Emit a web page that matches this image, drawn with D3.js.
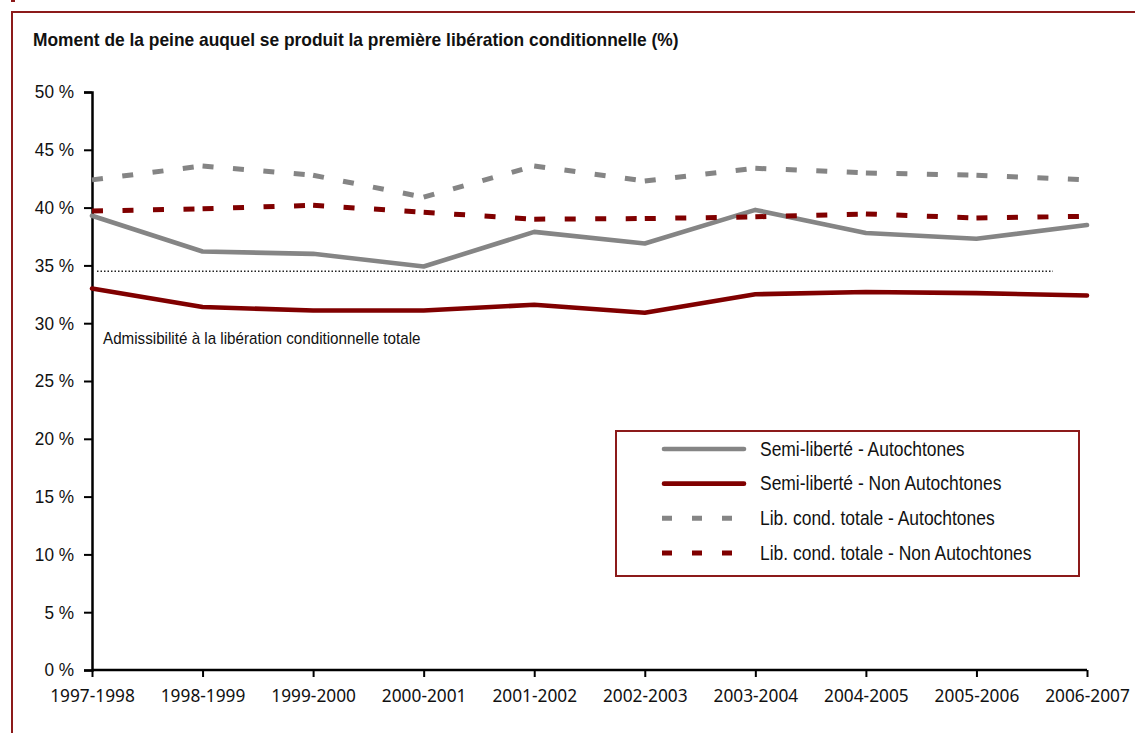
<!DOCTYPE html>
<html>
<head>
<meta charset="utf-8">
<script src="https://cdn.jsdelivr.net/npm/d3@7/dist/d3.min.js"></script>
<style>
  html, body { margin: 0; padding: 0; background: #fff; }
  svg { display: block; }
</style>
</head>
<body>
<svg id="chart" width="1135" height="733"></svg>
<script>
// Fiscal years on the horizontal axis
const years = ["1997-1998", "1998-1999", "1999-2000", "2000-2001", "2001-2002",
               "2002-2003", "2003-2004", "2004-2005", "2005-2006", "2006-2007"];

// Share of the sentence served at first release (%)
const semiAutochtones    = [39.3, 36.2, 36.0, 34.9, 37.9, 36.9, 39.8, 37.8, 37.3, 38.5];
const semiNonAutochtones = [33.0, 31.4, 31.1, 31.1, 31.6, 30.9, 32.5, 32.7, 32.6, 32.4];
const libAutochtones     = [42.4, 43.6, 42.8, 40.9, 43.6, 42.3, 43.4, 43.0, 42.8, 42.4];
const libNonAutochtones  = [39.7, 39.9, 40.2, 39.6, 39.0, 39.05, 39.2, 39.45, 39.1, 39.25];

// Eligibility threshold for full parole
const eligibility = 34.5;

const yTicks = [0, 5, 10, 15, 20, 25, 30, 35, 40, 45, 50];

const seriesNames = ["Semi-liberté - Autochtones", "Semi-liberté - Non Autochtones",
                     "Lib. cond. totale - Autochtones", "Lib. cond. totale - Non Autochtones"];

const GREY = "#858585";
const RED = "#800000";
const FRAME = "#8c1a1a";
const SANS = "'Liberation Sans', Arial, sans-serif";

const series = [
  { name: seriesNames[0], values: semiAutochtones,    color: GREY, dashed: false },
  { name: seriesNames[1], values: semiNonAutochtones, color: RED,  dashed: false },
  { name: seriesNames[2], values: libAutochtones,     color: GREY, dashed: true },
  { name: seriesNames[3], values: libNonAutochtones,  color: RED,  dashed: true }
];

const svg = d3.select("#chart");

// Condensed text: drawn at a taller size and squeezed horizontally
function condensedText(parent, tx, ty, sx, size, str, weight) {
  return parent.append("text")
    .attr("transform", `translate(${tx},${ty}) scale(${sx},1)`)
    .attr("font-family", SANS)
    .attr("font-weight", weight || "normal")
    .attr("font-size", size + "px")
    .attr("fill", "#111")
    .text(str);
}

// Outer frame (continues past the right and bottom edges)
svg.append("rect")
  .attr("x", 12).attr("y", 12)
  .attr("width", 1200).attr("height", 800)
  .attr("fill", "none")
  .attr("stroke", FRAME)
  .attr("stroke-width", 2);
svg.append("rect")
  .attr("x", 11).attr("y", 0).attr("width", 4).attr("height", 2)
  .attr("fill", FRAME);

// Title
condensedText(svg, 33, 45.5, 0.955, 18.2,
  "Moment de la peine auquel se produit la première libération conditionnelle (%)", "bold");

// Scales
const x = d3.scalePoint().domain(years).range([92, 1087]);
const y = d3.scaleLinear().domain([0, 50]).range([670, 92]);

// Y axis
const ySqueeze = 0.935;
const yAxis = svg.append("g")
  .attr("transform", `translate(${x.range()[0]},0)`)
  .call(d3.axisLeft(y).tickValues(yTicks).tickSize(8).tickPadding(10)
        .tickFormat(d => d + " %"));
yAxis.select(".domain").attr("stroke", "#000").attr("stroke-width", 2.5);
yAxis.selectAll(".tick line").attr("stroke", "#000").attr("stroke-width", 2);
yAxis.selectAll(".tick text")
  .attr("font-family", SANS)
  .attr("font-size", "18.4px")
  .attr("fill", "#111")
  .attr("x", -18 / ySqueeze)
  .attr("transform", `scale(${ySqueeze},1)`);

// X axis
const xAxis = svg.append("g")
  .attr("transform", `translate(0,${y(0)})`)
  .call(d3.axisBottom(x).tickSize(7).tickPadding(13).tickSizeOuter(0));
xAxis.select(".domain").attr("stroke", "#000").attr("stroke-width", 2.5)
  .attr("d", `M${x.range()[0]},0H${x.range()[1]}`);
xAxis.selectAll(".tick line").attr("stroke", "#000").attr("stroke-width", 2);
xAxis.selectAll(".tick text")
  .attr("font-family", "'Noto Sans', 'Open Sans', sans-serif")
  .attr("font-size", "17.3px")
  .attr("fill", "#111");

// Eligibility reference line
svg.append("line")
  .attr("x1", x(years[0]) + 5).attr("x2", x(years[years.length - 1]) - 34)
  .attr("y1", y(eligibility)).attr("y2", y(eligibility))
  .attr("stroke", "#222")
  .attr("stroke-width", 1.5)
  .attr("stroke-dasharray", "1.5,2");

condensedText(svg, 103, 343.5, 0.95, 16,
  "Admissibilité à la libération conditionnelle totale");

// Series lines
const line = d3.line()
  .x(d => x(d.year))
  .y(d => y(d.value));

series.forEach(s => {
  const pts = years.map((yr, i) => ({ year: yr, value: s.values[i] }));
  if (s.dashed) {
    // dash pattern restarts on every segment
    d3.pairs(pts).forEach(seg => {
      svg.append("path")
        .attr("d", line(seg))
        .attr("fill", "none")
        .attr("stroke", s.color)
        .attr("stroke-width", 5)
        .attr("stroke-dasharray", "11,19.5");
    });
  } else {
    svg.append("path")
      .attr("d", line(pts))
      .attr("fill", "none")
      .attr("stroke", s.color)
      .attr("stroke-width", 4.6)
      .attr("stroke-linejoin", "round")
      .attr("stroke-linecap", "round");
  }
});

// Legend
const legend = svg.append("g");
legend.append("rect")
  .attr("x", 616).attr("y", 431)
  .attr("width", 463).attr("height", 145)
  .attr("fill", "#fff")
  .attr("stroke", FRAME)
  .attr("stroke-width", 2);

const rowY = d3.scalePoint().domain(seriesNames).range([449, 553]);

series.forEach(s => {
  const cy = rowY(s.name);
  if (s.dashed) {
    legend.append("line")
      .attr("x1", 662).attr("x2", 746)
      .attr("y1", cy).attr("y2", cy)
      .attr("stroke", s.color)
      .attr("stroke-width", 5)
      .attr("stroke-dasharray", "10,20");
  } else {
    legend.append("line")
      .attr("x1", 664).attr("x2", 744)
      .attr("y1", cy).attr("y2", cy)
      .attr("stroke", s.color)
      .attr("stroke-width", 4.6)
      .attr("stroke-linecap", "round");
  }
  condensedText(legend, 760, cy + 6.8, 0.9, 19.4, s.name);
});
</script>
</body>
</html>
